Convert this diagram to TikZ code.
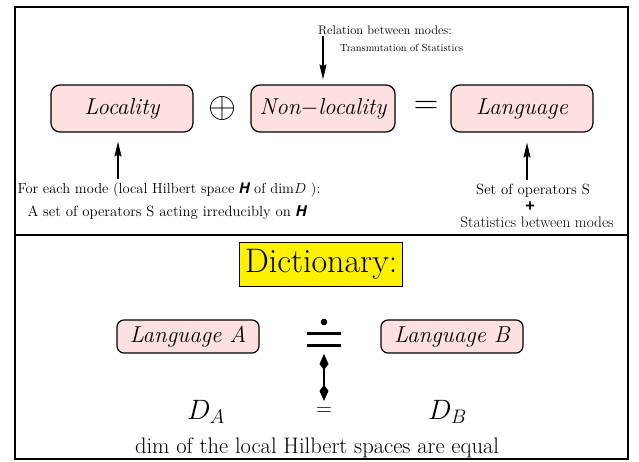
\RequirePackage{fix-cm}
\documentclass[tikz,border=0pt]{standalone}
\usepackage{amsmath}
\usepackage{fontspec}
\newfontfamily\herosfont{TeX Gyre Heros}
\usetikzlibrary{arrows.meta,math}

\definecolor{boxpink}{RGB}{255,224,224}
\newcommand\hilbH{{\herosfont\bfseries\itshape H}}

\begin{document}
\begin{tikzpicture}[x=1pt,y=-1pt,
  modebox/.style={draw,line width=1.2pt,rounded corners=9pt,fill=boxpink,
    minimum width=142pt,minimum height=47pt,inner sep=0pt,
    font=\fontsize{23}{27}\selectfont\itshape},
  smallbox/.style={modebox,rounded corners=7pt,minimum height=33pt},
  note/.style={font=\fontsize{14.5}{17}\selectfont,inner sep=0pt},
  smallnote/.style={font=\fontsize{10.3}{12}\selectfont,inner sep=0pt},
  pointer/.style={-{Stealth[length=15pt,width=7pt,inset=2pt]},line width=1.1pt}]
  \tikzmath{%
    \rowy = 108.5; \pairy = 336.5;
  }
  \useasboundingbox (0,0) rectangle (639,462);

  \draw[line width=2.4pt] (15,7) rectangle (628,459);
  \draw[line width=2.4pt] (15,235) -- (628,235);

  % upper half
  \node[modebox] (loc) at (122,\rowy) {Locality};
  \node[modebox,minimum width=144pt] (nonloc) at (323,\rowy) {Non$-$locality};
  \node[modebox] (lang) at (522,\rowy) {Language};
  \node (oplus) at (222,109) {\fontsize{36}{36}\selectfont$\oplus$};
  \node (equal) at (426,107) {\fontsize{34}{34}\selectfont$=$};

  \node[smallnote,font=\fontsize{12.5}{14}\selectfont,anchor=west] (relation) at (318,30) {Relation between modes:};
  \node[smallnote,anchor=west] (transmut) at (340,48) {Transmutation of Statistics};
  \coordinate (relfoot) at (323,36);
  \draw[pointer,shorten >=5pt] (relfoot) -- (relfoot |- nonloc.north);

  \node[note] (modeA) at (169,190) {For each mode (local Hilbert space \hilbH\ of dim$D$ ):};
  \node[note,font=\fontsize{14.8}{17}\selectfont] (modeB) at (167,213) {A set of operators S acting irreducibly on \hilbH};
  \coordinate (locfoot) at (118,179);
  \draw[pointer,shorten >=9pt] (locfoot) -- (locfoot |- loc.south);

  \node[note,font=\fontsize{14.8}{17}\selectfont] (setops) at (533,191) {Set of operators S};
  \node[note] (plus) at (530,206.5) {\fontsize{18}{18}\selectfont\herosfont\bfseries +};
  \node[note,font=\fontsize{15.3}{17}\selectfont] (statmodes) at (537,222) {Statistics between modes};
  \coordinate (langfoot) at (527,180);
  \draw[pointer,shorten >=10pt] (langfoot) -- (langfoot |- lang.south);

  % lower half
  \node[draw,fill=yellow,line width=0.6pt,minimum width=163pt,minimum height=44pt,
    inner sep=0pt,font=\fontsize{34}{38}\selectfont] (dict) at (321,264) {Dictionary:};
  \node[smallbox] (langA) at (188,\pairy) {Language A};
  \node[smallbox] (langB) at (452,\pairy) {Language B};

  % dotted equals sign
  \fill (324,322) circle (3.3);
  \draw[line width=3pt] (307,333) -- (341,333) (307,345) -- (341,345);
  \coordinate (doteq) at (324,354);
  \node[inner sep=0pt] (smalleq) at (324,412) {\fontsize{22}{22}\selectfont$=$};
  \draw[line width=1.1pt,{Kite[length=16pt,width=9pt,inset=6pt]}-{Kite[length=16pt,width=9pt,inset=6pt]},
    shorten >=7pt] (doteq) -- (smalleq.north);

  \node[anchor=base west,inner sep=0pt,font=\fontsize{28}{28}\selectfont] (dimA) at (187,419) {$D_A$};
  \node[anchor=base west,inner sep=0pt,font=\fontsize{28}{28}\selectfont] (dimB) at (428,419) {$D_B$};
  \node[anchor=base,inner sep=0pt,font=\fontsize{22.5}{26}\selectfont] (dimtext) at (317,453)
    {dim of the local Hilbert spaces are equal};
\end{tikzpicture}
\end{document}
